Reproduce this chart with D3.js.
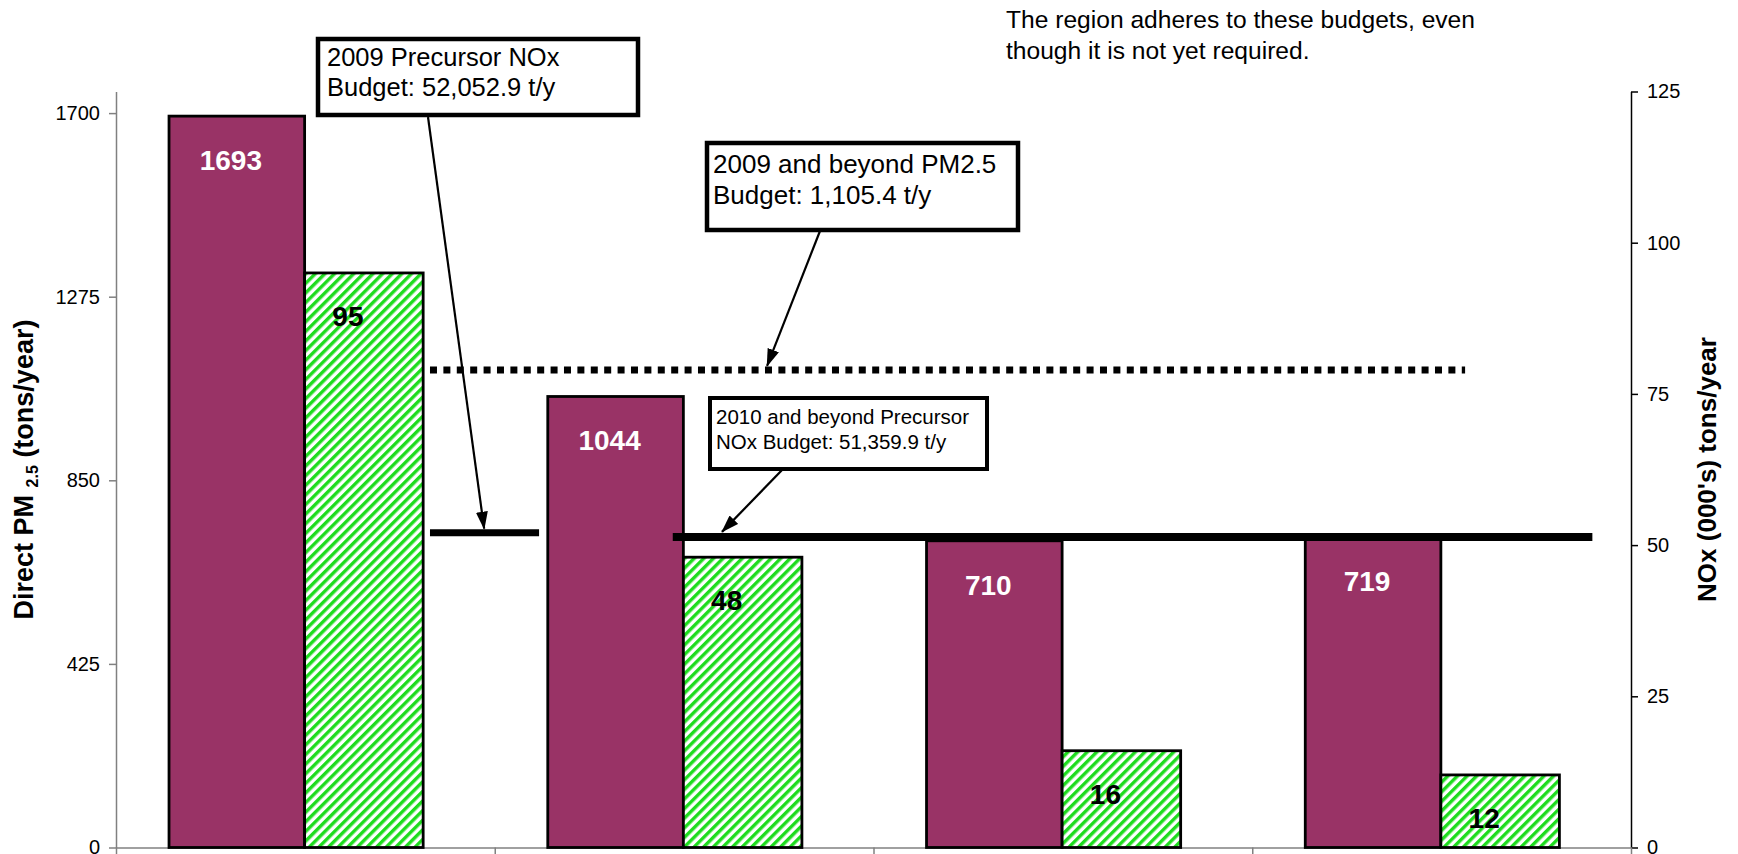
<!DOCTYPE html>
<html>
<head>
<meta charset="utf-8">
<script src="https://cdn.jsdelivr.net/npm/d3@7"></script>
<style>
  html, body { margin: 0; padding: 0; background: #ffffff; }
  svg { display: block; font-family: "Liberation Sans", Arial, Helvetica, sans-serif; }
</style>
</head>
<body>
<svg id="chart" width="1738" height="854"></svg>
<script>
// ---- data ----
const categories = ["Period 1", "Period 2", "Period 3", "Period 4"];
const pm25Direct = [1693, 1044, 710, 719];        // tons/year, left axis
const noxThousands = [95, 48, 16, 12];             // thousand tons/year, right axis
const leftTickValues = [0, 425, 850, 1275, 1700];
const rightTickValues = [0, 25, 50, 75, 100, 125];
const pmBudget = 1105.4;                           // tons/year
const noxBudget2009 = 52.0529;                     // thousand tons/year
const noxBudget2010 = 51.3599;                     // thousand tons/year
const noteLines = ["The region adheres to these budgets, even", "though it is not yet required."];
const callout2009Nox = ["2009 Precursor NOx", "Budget: 52,052.9 t/y"];
const callout2009Pm = ["2009 and beyond PM2.5", "Budget: 1,105.4 t/y"];
const callout2010Nox = ["2010 and beyond Precursor", "NOx Budget: 51,359.9 t/y"];

// ---- layout ----
const plot = { left: 116, right: 1631, top: 91.5, bottom: 847.5 };
const maroon = "#993366";
const hatchGreen = "#1edc1e";

const svg = d3.select("#chart");

const x = d3.scaleBand().domain(categories).range([plot.left, plot.right]);
const xu = d3.scaleLinear().domain([0, categories.length]).range([plot.left, plot.right]);
const yL = d3.scaleLinear().domain([0, 1750]).range([plot.bottom, plot.top]);
const yR = d3.scaleLinear().domain([0, 125]).range([plot.bottom, plot.top]);
const bw = x.bandwidth();

// diagonal hatch for the NOx bars
const defs = svg.append("defs");
const pat = defs.append("pattern")
  .attr("id", "hatch")
  .attr("patternUnits", "userSpaceOnUse")
  .attr("width", 6.8).attr("height", 6.8)
  .attr("patternTransform", "rotate(45)");
pat.append("rect").attr("width", 6.8).attr("height", 6.8).attr("fill", "#ffffff");
pat.append("rect").attr("width", 3.4).attr("height", 6.8).attr("fill", hatchGreen);

defs.append("marker")
  .attr("id", "arrowhead")
  .attr("markerUnits", "userSpaceOnUse")
  .attr("markerWidth", 18).attr("markerHeight", 12)
  .attr("refX", 17).attr("refY", 6)
  .attr("orient", "auto")
  .append("path")
  .attr("d", "M0,0 L18,6 L0,12 Z")
  .attr("fill", "#000");

// ---- axes ----
const axisFont = 20;
const plain = d3.format("d");

const gLeft = svg.append("g")
  .attr("transform", `translate(${plot.left},0)`)
  .call(d3.axisLeft(yL).tickValues(leftTickValues).tickFormat(plain)
    .tickSize(7).tickSizeOuter(0).tickPadding(9));
gLeft.select(".domain").attr("stroke", "#808080").attr("stroke-width", 1.5);
gLeft.selectAll(".tick line").attr("stroke", "#808080").attr("stroke-width", 1.5);
gLeft.selectAll(".tick text").attr("font-size", axisFont).attr("fill", "#000")
  .attr("font-family", "Liberation Sans, Arial, sans-serif");

const gRight = svg.append("g")
  .attr("transform", `translate(${plot.right},0)`)
  .call(d3.axisRight(yR).tickValues(rightTickValues).tickFormat(plain)
    .tickSize(7).tickSizeOuter(0).tickPadding(9));
gRight.select(".domain").attr("stroke", "#000").attr("stroke-width", 1.5);
gRight.selectAll(".tick line").attr("stroke", "#000").attr("stroke-width", 1.5);
gRight.selectAll(".tick text").attr("font-size", axisFont).attr("fill", "#000")
  .attr("font-family", "Liberation Sans, Arial, sans-serif");

const gBottom = svg.append("g")
  .attr("transform", `translate(0,${plot.bottom})`)
  .call(d3.axisBottom(xu).tickValues(d3.range(0, categories.length + 1))
    .tickSize(9).tickSizeOuter(0).tickFormat(""));
gBottom.select(".domain").attr("stroke", "#808080").attr("stroke-width", 1.5);
gBottom.selectAll(".tick line").attr("stroke", "#808080").attr("stroke-width", 1.5);

// axis titles
const leftTitle = svg.append("text")
  .attr("transform", `translate(33,${(plot.top + plot.bottom) / 2}) rotate(-90)`)
  .attr("text-anchor", "middle")
  .attr("font-size", 27).attr("font-weight", "bold").attr("fill", "#000");
leftTitle.append("tspan").text("Direct PM ");
leftTitle.append("tspan").attr("font-size", 16).attr("dy", 5).text("2.5");
leftTitle.append("tspan").attr("dy", -5).text(" (tons/year)");

svg.append("text")
  .attr("transform", `translate(1716,${(plot.top + plot.bottom) / 2}) rotate(-90)`)
  .attr("text-anchor", "middle")
  .attr("font-size", 26).attr("font-weight", "bold").attr("fill", "#000")
  .text("NOx (000's) tons/year");

// ---- bars ----
const pmX = c => x(c) + 0.14 * bw;
const pmW = 0.358 * bw;
const noxX = c => x(c) + 0.498 * bw;
const noxW = 0.313 * bw;

svg.append("g").selectAll("rect")
  .data(categories)
  .join("rect")
  .attr("x", c => pmX(c))
  .attr("width", pmW)
  .attr("y", (c, i) => yL(pm25Direct[i]))
  .attr("height", (c, i) => yL(0) - yL(pm25Direct[i]))
  .attr("fill", maroon)
  .attr("stroke", "#000").attr("stroke-width", 2.8);

svg.append("g").selectAll("rect")
  .data(categories)
  .join("rect")
  .attr("x", c => noxX(c))
  .attr("width", noxW)
  .attr("y", (c, i) => yR(noxThousands[i]))
  .attr("height", (c, i) => yR(0) - yR(noxThousands[i]))
  .attr("fill", "url(#hatch)")
  .attr("stroke", "#000").attr("stroke-width", 2.8);

// value labels
const labelFont = 28;
svg.append("g").selectAll("text")
  .data(categories)
  .join("text")
  .attr("x", c => pmX(c) + pmW / 2 - 6)
  .attr("y", (c, i) => yL(pm25Direct[i]) + 54)
  .attr("text-anchor", "middle")
  .attr("font-size", labelFont).attr("font-weight", "bold").attr("fill", "#fff")
  .text((c, i) => pm25Direct[i]);

svg.append("g").selectAll("text")
  .data(categories)
  .join("text")
  .attr("x", c => noxX(c) + noxW / 2 - 16)
  .attr("y", (c, i) => yR(noxThousands[i]) + 53)
  .attr("text-anchor", "middle")
  .attr("font-size", labelFont).attr("font-weight", "bold").attr("fill", "#000")
  .text((c, i) => noxThousands[i]);

// ---- budget lines ----
const pmY = yL(pmBudget);
const nox09Y = yR(noxBudget2009);
const nox10Y = yR(noxBudget2010);

svg.append("line")
  .attr("x1", xu(0.829)).attr("x2", xu(3.562))
  .attr("y1", pmY).attr("y2", pmY)
  .attr("stroke", "#000").attr("stroke-width", 7)
  .attr("stroke-dasharray", "7 6.4");

svg.append("line")
  .attr("x1", xu(0.829)).attr("x2", xu(1.117))
  .attr("y1", nox09Y).attr("y2", nox09Y)
  .attr("stroke", "#000").attr("stroke-width", 7);

svg.append("line")
  .attr("x1", xu(1.47)).attr("x2", xu(3.898))
  .attr("y1", nox10Y).attr("y2", nox10Y)
  .attr("stroke", "#000").attr("stroke-width", 8);

// ---- callouts ----
function callout(box, lines, fontSize, lineGap, border) {
  const g = svg.append("g");
  g.append("rect")
    .attr("x", box.x).attr("y", box.y)
    .attr("width", box.w).attr("height", box.h)
    .attr("fill", "#fff").attr("stroke", "#000").attr("stroke-width", border);
  g.append("text")
    .attr("font-size", fontSize).attr("fill", "#000")
    .selectAll("tspan")
    .data(lines)
    .join("tspan")
    .attr("x", box.tx)
    .attr("y", (d, i) => box.ty + i * lineGap)
    .text(d => d);
}

function arrow(x1, y1, x2, y2) {
  svg.append("line")
    .attr("x1", x1).attr("y1", y1).attr("x2", x2).attr("y2", y2)
    .attr("stroke", "#000").attr("stroke-width", 2.2)
    .attr("marker-end", "url(#arrowhead)");
}

arrow(428, 117, xu(0.972), nox09Y - 4);
arrow(820, 231, xu(1.719), pmY - 4);
arrow(783, 469, xu(1.6), nox10Y - 5);

callout({ x: 318, y: 39, w: 320, h: 76, tx: 327, ty: 66 }, callout2009Nox, 25.5, 30, 4.5);
callout({ x: 707, y: 143, w: 311, h: 87, tx: 713, ty: 173 }, callout2009Pm, 26, 31, 4.5);
callout({ x: 710, y: 398, w: 277, h: 71, tx: 716, ty: 424 }, callout2010Nox, 20.5, 25, 4);

// ---- note ----
svg.append("text")
  .attr("font-size", 24.6).attr("fill", "#000")
  .selectAll("tspan")
  .data(noteLines)
  .join("tspan")
  .attr("x", 1006)
  .attr("y", (d, i) => 27.5 + i * 31)
  .text(d => d);
</script>
</body>
</html>
